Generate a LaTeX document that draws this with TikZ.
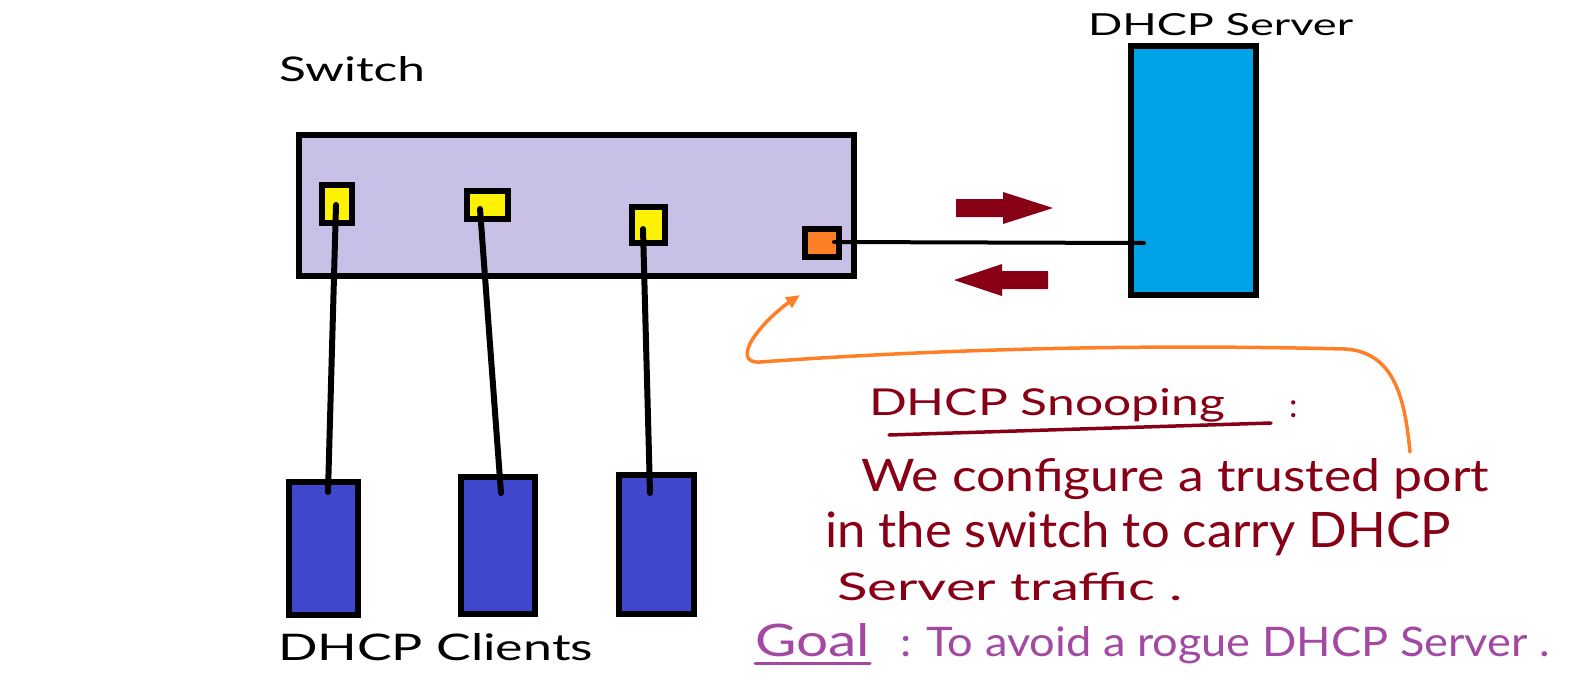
\documentclass[tikz,border=0pt]{standalone}
\usepackage{fontspec}
\setmainfont{Lato}
\usetikzlibrary{arrows.meta}
\definecolor{swfill}{HTML}{C8C0E6}
\definecolor{portY}{HTML}{FFF200}
\definecolor{portO}{HTML}{FF7F27}
\definecolor{srv}{HTML}{00A2E8}
\definecolor{cli}{HTML}{3F48CC}
\definecolor{dred}{HTML}{880015}
\definecolor{purp}{HTML}{A349A4}
\newcommand{\fitbox}[3]{\resizebox{#1pt}{#2pt}{#3}}
\tikzset{
  box/.style={draw=black, line width=6pt, inner sep=0pt, outer sep=0pt},
  switchbox/.style={box, fill=swfill, line width=6.5pt},
  yport/.style={box, fill=portY, line width=5.5pt},
  oport/.style={box, fill=portO, line width=5.5pt},
  serverbox/.style={box, fill=srv, line width=6pt},
  clientbox/.style={box, fill=cli, line width=6pt},
  wire/.style={draw=black, line width=6pt, line cap=round},
  uplink/.style={draw=black, line width=4pt, line cap=round},
  flow/.style={fill=dred},
  label/.style={anchor=base west, inner sep=0pt, outer sep=0pt},
  note/.style={label, text=dred},
  goaltext/.style={label, text=purp},
  callout/.style={draw=portO, line width=3.5pt, line cap=round, line join=round,
    -{Triangle[length=14pt,width=12pt]}},
}
\begin{document}
\begin{tikzpicture}[x=1pt,y=-1pt]
\useasboundingbox (0,0) rectangle (1588,683);

% switch and ports
\node[switchbox, minimum width=555pt, minimum height=141pt] (sw) at (576.5,205.5) {};
\node[yport, minimum width=30pt, minimum height=38pt] (p1) at (337,204) {};
\node[yport, minimum width=41pt, minimum height=28pt] (p2) at (487.5,205) {};
\node[yport, minimum width=33pt, minimum height=36pt] (p3) at (648.5,225) {};
\node[oport, minimum width=34pt, minimum height=28pt] (po) at (822,243) {};

% server
\node[serverbox, minimum width=125pt, minimum height=249pt] (srv) at (1193.5,170.5) {};

% clients
\node[clientbox, minimum width=69pt, minimum height=133pt] (c1) at (323.5,548.5) {};
\node[clientbox, minimum width=74pt, minimum height=137pt] (c2) at (498,545.5) {};
\node[clientbox, minimum width=75pt, minimum height=139pt] (c3) at (656.5,544.5) {};

% wire end points
\coordinate (p1w) at (336,205);
\coordinate (p2w) at (480,209);
\coordinate (p3w) at (643,229);
\coordinate (pow) at (834,242);
\coordinate (c1w) at (328,492);
\coordinate (c2w) at (501,493);
\coordinate (c3w) at (650,493);
\coordinate (srvw) at (1144,243);

\draw[wire] (p1w) -- (c1w);
\draw[wire] (p2w) -- (c2w);
\draw[wire] (p3w) -- (c3w);
\draw[uplink] (pow) -- (srvw);

% traffic arrows
\fill[flow] (956,199) -- (1003,199) -- (1003,192) -- (1053,208) -- (1003,224) -- (1003,217) -- (956,217) -- cycle;
\fill[flow] (1048,271) -- (1002,271) -- (1002,264) -- (954,280) -- (1002,296) -- (1002,289) -- (1048,289) -- cycle;

% labels
\node[label] (tsw) at (279,81) {\fitbox{146}{25}{Switch}};
\node[label] (tsrv) at (1088,35) {\fitbox{265}{22}{DHCP Server}};
\node[label] (tcli) at (278,660) {\fitbox{315}{27}{DHCP Clients}};

% notes
\node[note] (tsn) at (869,415) {\fitbox{356}{27}{DHCP Snooping}};
\coordinate (ul1) at (889,435);
\coordinate (ul2) at (1271,423);
\draw[dred, line width=3.5pt, line cap=round] (ul1) -- (ul2);
\node[note] (tcol) at (1289,417) {\fontsize{34}{34}\selectfont :};
\node[note] (tl1) at (861,491) {\fitbox{628}{33}{We configure a trusted port}};
\node[note] (tl2) at (825,547) {\fitbox{625}{36}{in the switch to carry DHCP}};
\node[note] (tl3) at (837,600) {\fitbox{346}{28}{Server traffic .}};
\node[goaltext] (tgoal) at (755,656) {\fitbox{115}{33}{Goal}};
\draw[purp, line width=3pt, line cap=round] ([yshift=-7pt]tgoal.base west) -- ([yshift=-7pt]tgoal.base east);
\node[goaltext] (tgoal2) at (900,656) {\fitbox{650}{30}{: To avoid a rogue DHCP Server .}};

% callout curve
\coordinate (cstart) at (1410,452);
\coordinate (ctip) at (800,295);
\draw[callout] (cstart) .. controls (1405,400) and (1395,352) .. (1345,349)
  .. controls (1100,343) and (900,352) .. (760,362)
  .. controls (744,363) and (745,352) .. (752,340)
  .. controls (765,320) and (785,305) .. (ctip);
\end{tikzpicture}
\end{document}
